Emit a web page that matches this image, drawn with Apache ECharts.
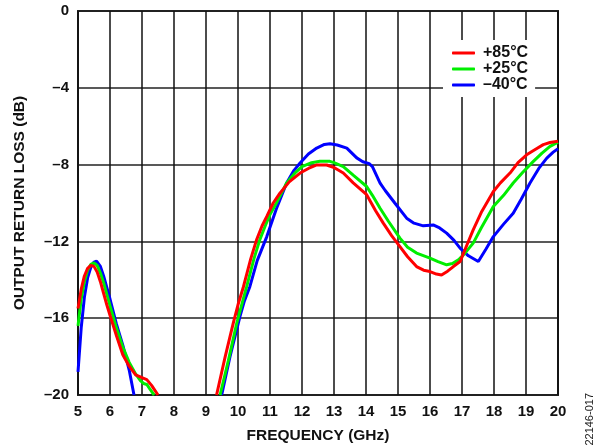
<!DOCTYPE html>
<html>
<head>
<meta charset="utf-8">
<script src="https://cdn.jsdelivr.net/npm/echarts@6/dist/echarts.min.js"></script>
<style>html,body{margin:0;padding:0;background:#fff}#c{width:606px;height:448px}</style>
</head>
<body>
<div id="c"></div>
<script>
var seriesNames = ['+85°C', '+25°C', '–40°C'];
var seriesColors = ['#ff0000', '#00ee00', '#0000ff'];

var red1 = [[5,-15.5],[5.1,-14.5],[5.2,-13.8],[5.3,-13.4],[5.4,-13.25],[5.5,-13.3],[5.6,-13.6],[5.7,-14.1],[5.8,-14.7],[5.9,-15.3],[6.0,-15.85],[6.2,-16.9],[6.4,-17.9],[6.6,-18.5],[6.8,-18.95],[7.0,-19.1],[7.15,-19.2],[7.3,-19.5],[7.5,-20]];
var red2 = [[9.33,-20],[9.6,-18.0],[9.85,-16.27],[10.0,-15.3],[10.17,-14.36],[10.4,-12.9],[10.58,-11.92],[10.75,-11.2],[10.9,-10.7],[11.1,-10.0],[11.31,-9.49],[11.6,-8.9],[11.94,-8.44],[12.2,-8.2],[12.46,-8.02],[12.77,-8.02],[13.0,-8.15],[13.29,-8.44],[13.6,-8.95],[14.02,-9.57],[14.3,-10.4],[14.54,-11.05],[14.8,-11.7],[15.06,-12.27],[15.3,-12.8],[15.58,-13.31],[15.8,-13.5],[16.0,-13.57],[16.2,-13.7],[16.36,-13.75],[16.55,-13.55],[16.73,-13.31],[16.94,-13.05],[17.15,-12.2],[17.35,-11.4],[17.6,-10.5],[17.98,-9.4],[18.2,-8.95],[18.5,-8.44],[18.75,-7.9],[19.02,-7.49],[19.3,-7.2],[19.54,-6.96],[19.75,-6.85],[20,-6.78]];

var green1 = [[5,-16.4],[5.1,-15.0],[5.2,-14.1],[5.3,-13.5],[5.4,-13.2],[5.5,-13.12],[5.6,-13.25],[5.7,-13.65],[5.8,-14.15],[5.9,-14.75],[6.0,-15.35],[6.2,-16.5],[6.4,-17.5],[6.6,-18.3],[6.8,-18.9],[6.95,-19.25],[7.05,-19.4],[7.15,-19.45],[7.25,-19.7],[7.38,-20]];
var green2 = [[9.44,-20],[9.7,-18.2],[9.96,-16.27],[10.1,-15.4],[10.27,-14.36],[10.5,-12.9],[10.68,-11.92],[10.85,-11.2],[11.0,-10.6],[11.2,-10.0],[11.52,-8.96],[11.8,-8.4],[12.0,-8.1],[12.3,-7.9],[12.56,-7.83],[12.87,-7.83],[13.0,-7.9],[13.29,-8.1],[13.6,-8.55],[14.02,-9.14],[14.2,-9.6],[14.44,-10.27],[14.7,-10.95],[15.06,-11.83],[15.3,-12.3],[15.58,-12.61],[16.0,-12.87],[16.25,-13.05],[16.52,-13.22],[16.7,-13.15],[16.9,-12.95],[17.1,-12.6],[17.35,-12.09],[17.6,-11.3],[17.98,-10.18],[18.3,-9.6],[18.6,-8.96],[18.9,-8.4],[19.23,-7.83],[19.5,-7.4],[19.75,-7.05],[20,-6.83]];

var blue1 = [[5,-18.8],[5.1,-16.5],[5.2,-14.9],[5.3,-13.9],[5.4,-13.35],[5.5,-13.08],[5.58,-13.03],[5.7,-13.3],[5.8,-13.8],[5.9,-14.4],[6.0,-15.0],[6.2,-16.3],[6.4,-17.4],[6.6,-18.7],[6.75,-20]];
var blue2 = [[9.49,-20],[9.75,-18.0],[10.06,-15.92],[10.2,-15.1],[10.37,-14.36],[10.6,-13.0],[10.9,-11.75],[11.2,-10.3],[11.52,-8.96],[11.75,-8.3],[11.94,-7.92],[12.2,-7.45],[12.46,-7.14],[12.7,-6.95],[12.875,-6.91],[13.1,-6.98],[13.4,-7.14],[13.71,-7.65],[13.9,-7.85],[14.1,-7.95],[14.2,-8.1],[14.44,-8.96],[14.6,-9.35],[14.9,-10.0],[15.27,-10.79],[15.5,-11.05],[15.79,-11.19],[16.1,-11.14],[16.3,-11.3],[16.52,-11.57],[16.75,-11.95],[16.94,-12.35],[17.2,-12.75],[17.51,-13.05],[17.75,-12.4],[17.98,-11.75],[18.3,-11.1],[18.6,-10.53],[18.85,-9.8],[19.125,-8.96],[19.4,-8.2],[19.65,-7.66],[19.85,-7.35],[20,-7.17]];

var xMin = 5, xMax = 20, xStep = 1;
var yMin = -20, yMax = 0, yStep = 4;

var FONT = '"Liberation Sans", Arial, Helvetica, sans-serif';

function mk(name, color, data, z) {
  return {
    name: name, type: 'line', data: data, showSymbol: false, symbol: 'none',
    lineStyle: { color: color, width: 3 }, itemStyle: { color: color },
    z: z, animation: false, clip: true
  };
}

var chart = echarts.init(document.getElementById('c'), null, { renderer: 'canvas' });
chart.setOption({
  animation: false,
  backgroundColor: '#fff',
  grid: { left: 78, right: 48, top: 11, bottom: 53, show: true, borderColor: '#222', borderWidth: 2, outerBoundsMode: 'none' },
  legend: {
    data: seriesNames.map(function (n, i) { return { name: n, itemStyle: { color: seriesColors[i] } }; }),
    orient: 'vertical', left: 443, top: 40,
    padding: [5, 7, 4, 9],
    backgroundColor: '#fff',
    icon: 'roundRect', itemWidth: 23, itemHeight: 3, itemGap: 0,
    textStyle: { fontFamily: FONT, fontWeight: 'bold', fontSize: 16, color: '#111', padding: [0, 0, 0, 3], lineHeight: 16 },
    z: 10
  },
  xAxis: {
    type: 'value', min: xMin, max: xMax, interval: xStep,
    name: 'FREQUENCY (GHz)', nameLocation: 'middle', nameGap: 33,
    nameTextStyle: { fontFamily: FONT, fontWeight: 'bold', fontSize: 15.5, color: '#111' },
    axisLine: { show: false }, axisTick: { show: false },
    axisLabel: { fontFamily: FONT, fontWeight: 'bold', fontSize: 15, color: '#111', margin: 9 },
    splitLine: { show: true, lineStyle: { color: '#111', width: 1.5 } }
  },
  yAxis: {
    type: 'value', min: yMin, max: yMax, interval: yStep,
    name: 'OUTPUT RETURN LOSS (dB)', nameLocation: 'middle', nameGap: 50,
    nameTextStyle: { fontFamily: FONT, fontWeight: 'bold', fontSize: 15.5, color: '#111' },
    axisLine: { show: false }, axisTick: { show: false },
    axisLabel: { fontFamily: FONT, fontWeight: 'bold', fontSize: 15, color: '#111', margin: 9,
      formatter: function (v) { return v < 0 ? '–' + Math.abs(v) : String(v); } },
    splitLine: { show: true, lineStyle: { color: '#222', width: 1.5 } }
  },
  graphic: [{
    type: 'text', left: 584, top: 393, rotation: Math.PI / 2,
    style: { text: '22146-017', fontFamily: FONT, fontSize: 11, fill: '#222' }
  }],
  series: [
    mk(seriesNames[2], seriesColors[2], blue1, 2), mk(seriesNames[2], seriesColors[2], blue2, 2),
    mk(seriesNames[1], seriesColors[1], green1, 3), mk(seriesNames[1], seriesColors[1], green2, 3),
    mk(seriesNames[0], seriesColors[0], red1, 4), mk(seriesNames[0], seriesColors[0], red2, 4)
  ]
});
</script>
</body>
</html>
